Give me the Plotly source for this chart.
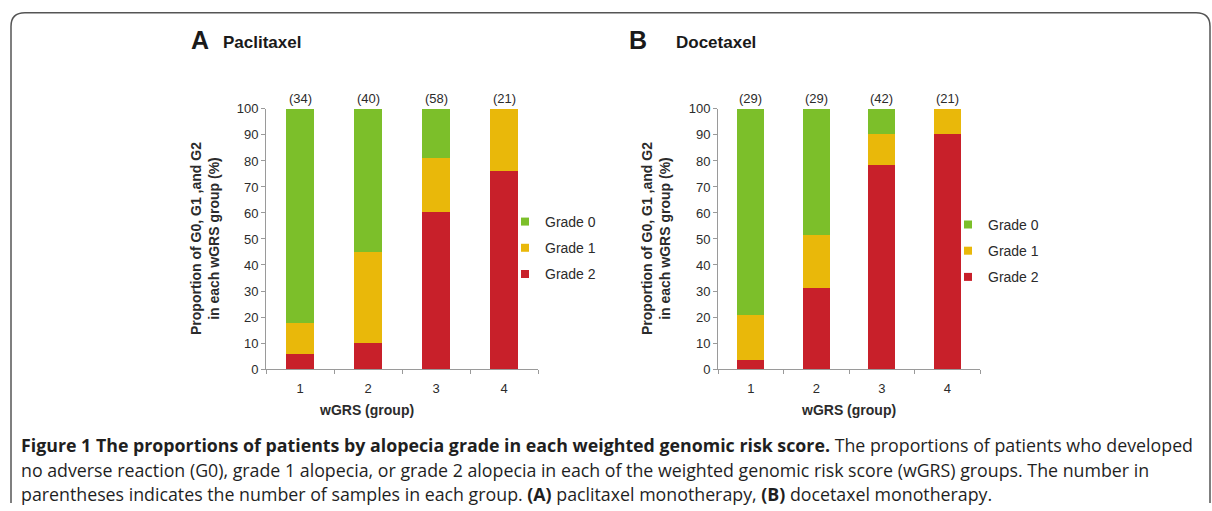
import plotly.graph_objects as go

W, H = 1212, 511

groups = ["1", "2", "3", "4"]
grades = ["Grade 0", "Grade 1", "Grade 2"]

# Paclitaxel (A): percentages per wGRS group
pac_g0 = [82.4, 55.0, 19.0, 0.0]
pac_g1 = [11.8, 35.0, 20.7, 23.8]
pac_g2 = [5.9, 10.0, 60.3, 76.2]
pac_n = ["(34)", "(40)", "(58)", "(21)"]

# Docetaxel (B)
doc_g0 = [79.3, 48.3, 9.5, 0.0]
doc_g1 = [17.2, 20.7, 11.9, 9.5]
doc_g2 = [3.4, 31.0, 78.6, 90.5]
doc_n = ["(29)", "(29)", "(42)", "(21)"]

colors = {"Grade 0": "#7cbf2a", "Grade 1": "#e9b80a", "Grade 2": "#c8202a"}
FONT = "Liberation Sans, Arial, sans-serif"
TXT = "#2b2b2b"

def px(x):
    return x / W

def py(y):
    return 1 - y / H

fig = go.Figure()

panels = [
    ("x", "y", "legend", [pac_g0, pac_g1, pac_g2], pac_n),
    ("x2", "y2", "legend2", [doc_g0, doc_g1, doc_g2], doc_n),
]

for xa, ya, leg, (g0, g1, g2), ns in panels:
    vals = {"Grade 0": g0, "Grade 1": g1, "Grade 2": g2}
    for g in ["Grade 2", "Grade 1", "Grade 0"]:
        fig.add_trace(go.Bar(x=groups, y=vals[g], name=g, marker_color=colors[g],
                             marker_line_width=0, xaxis=xa, yaxis=ya, showlegend=False))
    for g in grades:
        fig.add_trace(go.Scatter(x=[groups[0]], y=[None], mode="markers", name=g,
                                 marker=dict(symbol="square", size=8, color=colors[g]),
                                 xaxis=xa, yaxis=ya, legend=leg, legendgroup=leg + g,
                                 showlegend=True))
    # category axes: annotation x given as category index
    for idx, n in enumerate(ns):
        fig.add_annotation(x=idx, y=100, xref=xa, yref=ya, text=n, showarrow=False,
                           xanchor="center", yanchor="bottom", yshift=1,
                           font=dict(size=13, color=TXT, family=FONT))

axis_common = dict(showline=True, linecolor="#9a9a9a", linewidth=1, ticks="outside",
                   tickcolor="#9a9a9a", ticklen=4, showgrid=False, zeroline=False,
                   tickfont=dict(size=13, color=TXT, family=FONT))

leg_common = dict(xanchor="left", yanchor="top", bgcolor="rgba(0,0,0,0)",
                  font=dict(size=14, color=TXT, family=FONT), itemwidth=30,
                  traceorder="grouped", tracegroupgap=5)

fig.update_layout(
    width=W, height=H, margin=dict(l=0, r=0, t=0, b=0),
    paper_bgcolor="white", plot_bgcolor="white",
    barmode="stack", bargap=0.59,
    xaxis=dict(domain=[px(266), px(538)], anchor="y", type="category", tickson="boundaries",
               categoryorder="array", categoryarray=groups, ticklabelstandoff=7, **axis_common),
    yaxis=dict(domain=[py(373), py(105)], anchor="x", range=[0, 100], dtick=10, **axis_common),
    xaxis2=dict(domain=[px(718), px(980)], anchor="y2", type="category", tickson="boundaries",
                categoryorder="array", categoryarray=groups, ticklabelstandoff=7, **axis_common),
    yaxis2=dict(domain=[py(373), py(105)], anchor="x2", range=[0, 100], dtick=10, **axis_common),
    legend=dict(x=px(505), y=py(205), **leg_common),
    legend2=dict(x=px(948), y=py(208), **leg_common),
    showlegend=True,
)

ytitle = "Proportion of G0, G1 ,and G2<br>in each wGRS group (%)"
for xc, cx in [(205, 367), (656, 848)]:
    fig.add_annotation(x=px(xc), y=py(239), xref="paper", yref="paper", text=f"<b>{ytitle}</b>",
                       textangle=-90, showarrow=False, xanchor="center", yanchor="middle",
                       font=dict(size=14, color=TXT, family=FONT))
    fig.add_annotation(x=px(cx), y=py(415), xref="paper", yref="paper", text="<b>wGRS (group)</b>",
                       showarrow=False, xanchor="center", yanchor="middle",
                       font=dict(size=14, color=TXT, family=FONT))

# panel titles
titles = [(189, "A", 25, 34), (221, "Paclitaxel", 17, 37), (627, "B", 25, 34), (674, "Docetaxel", 17, 37)]
for xl, t, s, yc in titles:
    fig.add_annotation(x=px(xl), y=py(yc), xref="paper", yref="paper",
                       text=f"<b>{t}</b>", xanchor="left", yanchor="middle", showarrow=False,
                       font=dict(size=s, color="#1a1a1a", family=FONT))

# caption
CAP = "Open Sans, sans-serif"
cap_lines = [
    "<b>Figure 1 The proportions of patients by alopecia grade in each weighted genomic risk score.</b> The proportions of patients who developed",
    "no adverse reaction (G0), grade 1 alopecia, or grade 2 alopecia in each of the weighted genomic risk score (wGRS) groups. The number in",
    "parentheses indicates the number of samples in each group. <b>(A)</b> paclitaxel monotherapy, <b>(B)</b> docetaxel monotherapy.",
]
for i, line in enumerate(cap_lines):
    fig.add_annotation(x=px(19), y=py(451 + 25.5 * i), xref="paper", yref="paper", text=line,
                       xanchor="left", yanchor="middle", showarrow=False,
                       font=dict(size=17.8, color="#1f1f1f", family=CAP))

# frame with rounded top corners
r = 14
path = (f"M {px(11)},{py(511)} L {px(11)},{py(6 + r)} Q {px(11)},{py(6)} {px(11 + r)},{py(6)} "
        f"L {px(1210 - r)},{py(6)} Q {px(1210)},{py(6)} {px(1210)},{py(6 + r)} L {px(1210)},{py(511)}")
fig.add_shape(type="path", path=path, xref="paper", yref="paper", line=dict(color="#555555", width=1.5))

fig.write_html("out.html")
